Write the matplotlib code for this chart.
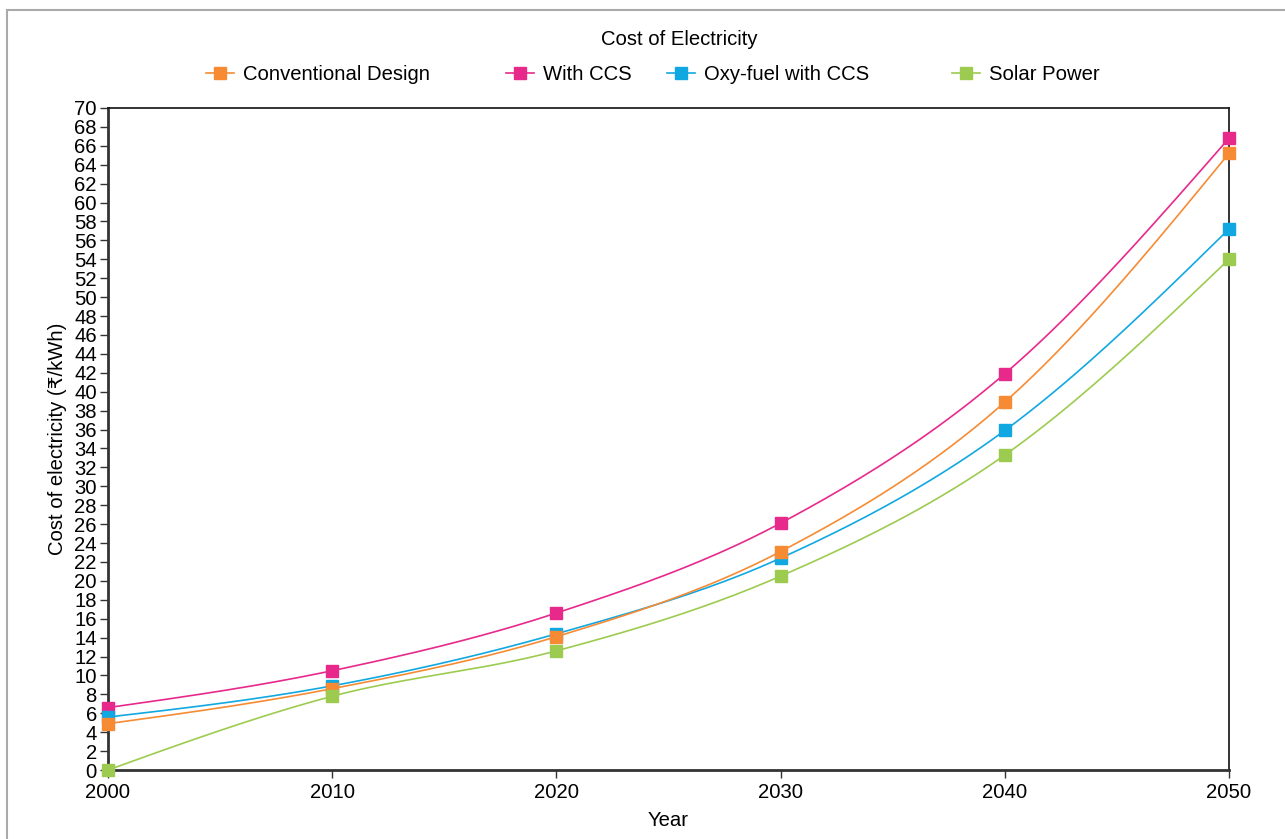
import numpy as np
import matplotlib
matplotlib.use("Agg")
import matplotlib.pyplot as plt
from matplotlib.lines import Line2D
from matplotlib.patches import Rectangle

plt.rcParams['font.family'] = ['Liberation Sans', 'DejaVu Sans']

# ===================== DADOS =====================
anos = [2000, 2010, 2020, 2030, 2040, 2050]
convencional = [4.9, 8.6, 14.1, 23.1, 38.9, 65.2]
com_ccs = [6.6, 10.5, 16.6, 26.1, 41.9, 66.8]
oxy_ccs = [5.6, 8.9, 14.4, 22.4, 35.9, 57.2]
solar = [0.0, 7.8, 12.6, 20.5, 33.3, 54.0]

nomes = ["Conventional Design", "With CCS", "Oxy-fuel with CCS", "Solar Power"]
cores = ["#F68B33", "#E8298C", "#11A8E2", "#9DCB50"]
series = [convencional, com_ccs, oxy_ccs, solar]
ordem_z = [4, 3, 3.5, 5]

FONTE = 14.6


# curva monotona (estilo d3 curveMonotoneX) so para desenhar a linha
def curva_monotona(x, y, n=40):
    x = np.asarray(x, float)
    y = np.asarray(y, float)
    h = np.diff(x)
    s = np.diff(y) / h
    t = np.zeros(len(x))
    for i in range(1, len(x) - 1):
        p = (s[i - 1] * h[i] + s[i] * h[i - 1]) / (h[i - 1] + h[i])
        t[i] = (np.sign(s[i - 1]) + np.sign(s[i])) * min(abs(s[i - 1]), abs(s[i]), 0.5 * abs(p))
    t[0] = (3 * s[0] - t[1]) / 2
    t[-1] = (3 * s[-1] - t[-2]) / 2
    xs, ys = [], []
    for i in range(len(x) - 1):
        u = np.linspace(0, 1, n)
        h00 = 2 * u**3 - 3 * u**2 + 1
        h10 = u**3 - 2 * u**2 + u
        h01 = -2 * u**3 + 3 * u**2
        h11 = u**3 - u**2
        xs.append(x[i] + u * h[i])
        ys.append(h00 * y[i] + h10 * h[i] * t[i] + h01 * y[i + 1] + h11 * h[i] * t[i + 1])
    return np.concatenate(xs), np.concatenate(ys)


# ===================== GRAFICO =====================
fig = plt.figure(figsize=(12.85, 8.39), dpi=100)
ax = fig.add_axes([0.0840, 0.0822, 0.8724, 0.7891])

for nome, cor, vals, z in zip(nomes, cores, series, ordem_z):
    cx, cy = curva_monotona(anos, vals)
    ax.plot(cx, cy, color=cor, linewidth=1.2, zorder=z, clip_on=False)
    ax.plot(anos, vals, linestyle="none", marker="s", markersize=8,
            color=cor, zorder=z + 0.1, clip_on=False)

ax.set_xlim(2000, 2050)
ax.set_ylim(0, 70)
ax.set_xticks(anos)
ax.set_yticks(np.arange(0, 71, 2))
ax.tick_params(axis="both", labelsize=FONTE, length=6, width=1, color="#333333", pad=2)
ax.tick_params(axis="x", pad=3)

for lado in ["top", "right"]:
    ax.spines[lado].set_linewidth(1.2)
    ax.spines[lado].set_color("#111111")
for lado in ["left", "bottom"]:
    ax.spines[lado].set_linewidth(2)
    ax.spines[lado].set_color("#333333")

ax.set_xlabel("Year", fontsize=FONTE, labelpad=7)
ax.set_ylabel("Cost of electricity (₹/kWh)", fontsize=FONTE, labelpad=5)

# ===================== LEGENDA =====================
fig.text(0.5285, 0.9535, "Cost of Electricity", ha="center", va="center", fontsize=FONTE)
pos_legenda = [0.160, 0.3935, 0.519, 0.7405]
for nome, cor, px in zip(nomes, cores, pos_legenda):
    h = Line2D([], [], color=cor, linewidth=1.2, marker="s", markersize=8)
    fig.legend(handles=[h], labels=[nome], loc="center left",
               bbox_to_anchor=(px, 0.911), frameon=False, fontsize=FONTE,
               handlelength=1.4, handletextpad=0.45, borderpad=0, borderaxespad=0)

# moldura externa
fig.patches.append(Rectangle((7 / 1285, -0.1), 1.2, 1 - 10 / 839 + 0.1,
                             transform=fig.transFigure, fill=False,
                             edgecolor="#AAAAAA", linewidth=1.5))

fig.savefig("out.png", dpi=100)
